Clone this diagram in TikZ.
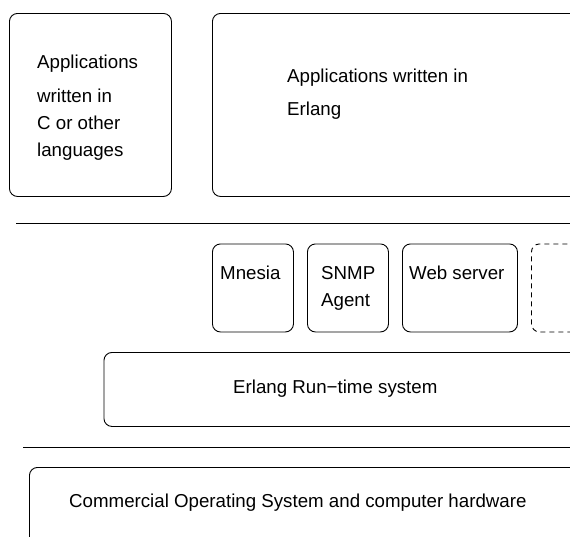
\documentclass[tikz,border=0pt]{standalone}
\usepackage{fontspec}
\setmainfont{Liberation Sans}
\begin{document}
\begin{tikzpicture}[x=1pt,y=-1pt,
  box/.style={draw=black, line width=0.9pt, rounded corners=8pt, anchor=north west, inner sep=0pt},
  dbox/.style={box, dash pattern=on 5pt off 4pt},
  lbl/.style={anchor=base west, inner sep=0pt, font=\fontsize{18.7}{22}\selectfont},
  rule/.style={draw=black, line width=0.9pt}]
\useasboundingbox (0,0) rectangle (570,536);
\clip (0,0) rectangle (570,536);
% top layer
\node[box, minimum width=162pt, minimum height=183pt] (b1) at (9,13) {};
\node[box, minimum width=400pt, minimum height=183pt] (b2) at (212,13) {};
\node[lbl] (t1a) at (37,68) {Applications};
\node[lbl] (t1b) at (37,102) {written in};
\node[lbl] (t1c) at (37,129) {C or other};
\node[lbl] (t1d) at (37,156) {languages};
\node[lbl] (t2a) at (287,82) {Applications written in};
\node[lbl] (t2b) at (287,115) {Erlang};
% rule 1
\coordinate (r1a) at (16,223);
\coordinate (r1b) at (570,223);
\draw[rule] (r1a) -- (r1b);
% middle layer
\node[box, minimum width=81pt, minimum height=88pt] (mn) at (212,243.5) {};
\node[box, minimum width=81pt, minimum height=88pt] (sn) at (307,243.5) {};
\node[box, minimum width=115pt, minimum height=88pt] (ws) at (402,243.5) {};
\node[dbox, minimum width=80pt, minimum height=88pt] (ot) at (531,243.5) {};
\node[lbl] (tmn) at (220,279) {Mnesia};
\node[lbl] (tsn1) at (321,279) {SNMP};
\node[lbl] (tsn2) at (321,306) {Agent};
\node[lbl] (tws) at (409,279) {Web server};
\node[box, minimum width=500pt, minimum height=74pt] (rt) at (103.5,352) {};
\node[lbl] (trt) at (233,393) {Erlang Run−time system};
% rule 2
\coordinate (r2a) at (23,447);
\coordinate (r2b) at (570,447);
\draw[rule] (r2a) -- (r2b);
% bottom layer
\node[box, minimum width=600pt, minimum height=100pt] (os) at (29,467) {};
\node[lbl] (tos) at (69,507) {Commercial Operating System and computer hardware};
\end{tikzpicture}
\end{document}
